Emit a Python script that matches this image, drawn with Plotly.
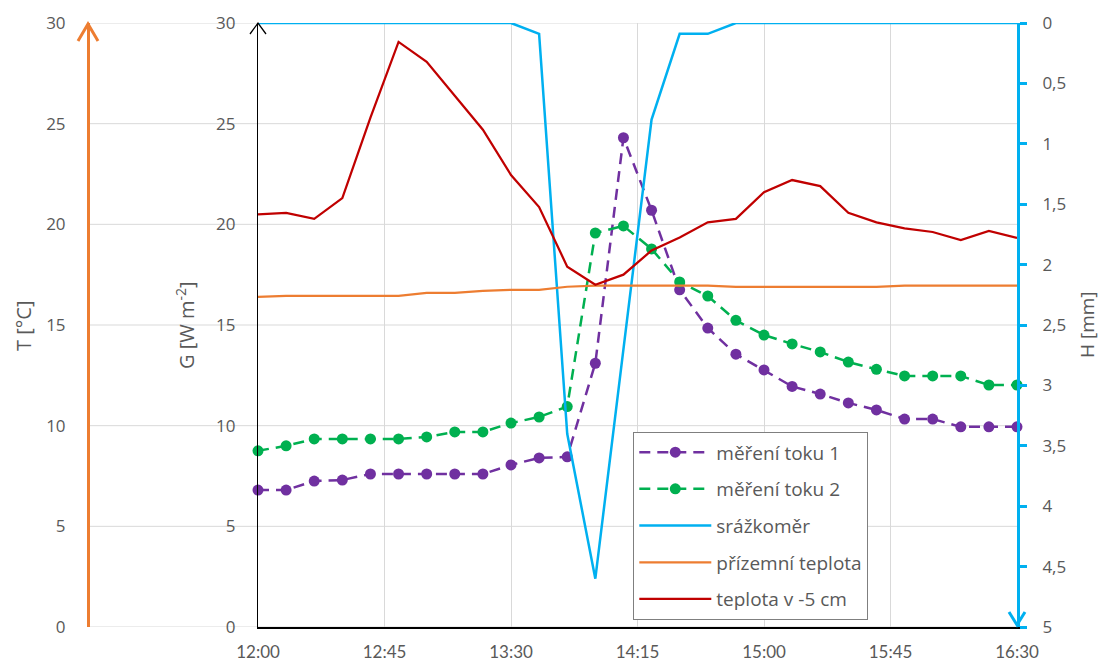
import pandas as pd
import plotly.graph_objects as go

# ---------------- data ----------------
times = ["12:00", "12:10", "12:20", "12:30", "12:40", "12:50", "13:00", "13:10", "13:20", "13:30",
         "13:40", "13:50", "14:00", "14:10", "14:20", "14:30", "14:40", "14:50", "15:00", "15:10",
         "15:20", "15:30", "15:40", "15:50", "16:00", "16:10", "16:20", "16:30"]

flux1 = [6.8, 6.8, 7.25, 7.3, 7.6, 7.6, 7.6, 7.6, 7.6, 8.05, 8.4, 8.45, 13.1, 24.3,
         20.7, 16.75, 14.85, 13.55, 12.77, 11.95, 11.57, 11.13, 10.78, 10.33, 10.33, 9.94, 9.94, 9.94]
flux2 = [8.75, 9.0, 9.34, 9.34, 9.34, 9.34, 9.44, 9.69, 9.69, 10.13, 10.43, 10.95, 19.57, 19.92,
         18.78, 17.14, 16.44, 15.23, 14.5, 14.06, 13.66, 13.16, 12.8, 12.47, 12.47, 12.47, 12.02, 12.02]
rain = [0, 0, 0, 0, 0, 0, 0, 0, 0, 0, 0.09, 3.4, 4.6, 2.7, 0.8, 0.09, 0.09, 0, 0, 0,
        0, 0, 0, 0, 0, 0, 0, 0]
t_surface = [16.4, 16.45, 16.45, 16.45, 16.45, 16.45, 16.6, 16.6, 16.7, 16.75, 16.75, 16.9, 16.95, 16.95,
             16.95, 16.95, 16.95, 16.9, 16.9, 16.9, 16.9, 16.9, 16.9, 16.95, 16.95, 16.95, 16.95, 16.95]
t_5cm = [20.5, 20.57, 20.27, 21.3, 25.3, 29.06, 28.07, 26.4, 24.7, 22.45, 20.86, 17.9, 17.0, 17.5,
         18.7, 19.35, 20.1, 20.27, 21.6, 22.2, 21.9, 20.57, 20.1, 19.8, 19.62, 19.22, 19.67, 19.32]

names = ["měření toku 1", "měření toku 2", "srážkoměr", "přízemní teplota", "teplota v -5 cm"]
y_ticks = [0, 5, 10, 15, 20, 25, 30]
h_ticks = [0, 0.5, 1, 1.5, 2, 2.5, 3, 3.5, 4, 4.5, 5]
x_tick_labels = ["12:00", "12:45", "13:30", "14:15", "15:00", "15:45", "16:30"]

# ---------------- style ----------------
W, H = 1104, 664
L_PX, R_PX, T_PX, B_PX = 258, 1017, 23, 627
T_AXIS_PX = 88
PH = B_PX - T_PX


def px(xp):
    return xp / W


def py(yp):
    return (B_PX - yp) / PH


GRAY = "#595959"
GRID = "#D9D9D9"
PURPLE = "#7030A0"
GREEN = "#00B050"
BLUE = "#00B0F0"
ORANGE = "#ED7D31"
RED = "#C00000"
TICK_FONT = dict(family="Open Sans", size=17, color=GRAY)

x = pd.to_datetime(["2020-01-01 " + t for t in times])
xt = pd.to_datetime(["2020-01-01 " + t for t in x_tick_labels])

fig = go.Figure()
fig.add_trace(go.Scatter(x=x, y=flux1, name=names[0], mode="lines+markers", legendgroup="a",
                         line=dict(color=PURPLE, width=2.5, dash="11px,7px"),
                         marker=dict(size=11, color=PURPLE), yaxis="y", cliponaxis=False))
fig.add_trace(go.Scatter(x=x, y=flux2, name=names[1], mode="lines+markers", legendgroup="b",
                         line=dict(color=GREEN, width=2.5, dash="11px,7px"),
                         marker=dict(size=11, color=GREEN), yaxis="y", cliponaxis=False))
fig.add_trace(go.Scatter(x=x, y=rain, name=names[2], mode="lines", legendgroup="c",
                         line=dict(color=BLUE, width=2.5), yaxis="y2", cliponaxis=False))
fig.add_trace(go.Scatter(x=x, y=t_surface, name=names[3], mode="lines", legendgroup="d",
                         line=dict(color=ORANGE, width=2.25), yaxis="y3", cliponaxis=False))
fig.add_trace(go.Scatter(x=x, y=t_5cm, name=names[4], mode="lines", legendgroup="e",
                         line=dict(color=RED, width=2.25), yaxis="y3", cliponaxis=False))

# horizontal gridlines spanning from the T axis to the plot's right edge
shapes = []
for v in y_ticks:
    shapes.append(dict(type="line", xref="paper", yref="y", x0=px(T_AXIS_PX), x1=px(R_PX), y0=v, y1=v,
                       line=dict(color=GRID, width=1), layer="below"))


def chevron(xc, yc, dx, dy, color, w):
    return dict(type="path", xref="paper", yref="paper",
                path=f"M {px(xc - dx)} {py(yc + dy)} L {px(xc)} {py(yc)} L {px(xc + dx)} {py(yc + dy)}",
                line=dict(color=color, width=w), layer="above")


shapes.append(chevron(T_AXIS_PX, 24, 10, 17, ORANGE, 3))
shapes.append(chevron(L_PX, 23, 8, 11, "#000000", 1.3))
shapes.append(chevron(R_PX, 625, 8, -13, BLUE, 3))

TITLE_FONT = dict(size=20, color=GRAY, family="Open Sans")
annotations = [
    dict(text="T [°C]", x=px(23), y=py(326), xref="paper", yref="paper", showarrow=False,
         textangle=-90, font=TITLE_FONT, xanchor="center", yanchor="middle"),
    dict(text="G [W m<sup>-2</sup>]", x=px(185), y=py(325), xref="paper", yref="paper", showarrow=False,
         textangle=-90, font=TITLE_FONT, xanchor="center", yanchor="middle"),
    dict(text="H [mm]", x=px(1087), y=py(325), xref="paper", yref="paper", showarrow=False,
         textangle=-90, font=dict(size=19, color=GRAY, family="Open Sans"),
         xanchor="center", yanchor="middle"),
]

fig.update_layout(
    width=W, height=H,
    margin=dict(l=0, r=0, t=T_PX, b=H - B_PX, pad=0, autoexpand=False),
    paper_bgcolor="white", plot_bgcolor="white",
    separators=", ",
    showlegend=True,
    shapes=shapes,
    annotations=annotations,
    xaxis=dict(type="date", domain=[L_PX / W, R_PX / W], range=[x[0], x[-1]],
               tickvals=xt, ticktext=x_tick_labels, automargin=False,
               showgrid=True, gridcolor=GRID, gridwidth=1, zeroline=False,
               showline=True, linecolor="#000000", linewidth=1.5,
               ticks="", ticklabelstandoff=9,
               tickfont=dict(family="Lato", size=17, color=GRAY)),
    yaxis=dict(range=[0, 30], tickvals=y_ticks, showgrid=False, zeroline=False, anchor="x",
               showline=True, linecolor="#000000", linewidth=1.3, automargin=False,
               ticks="", ticklabelstandoff=18, tickfont=TICK_FONT),
    yaxis2=dict(range=[5, 0], tickvals=h_ticks, overlaying="y", side="right", anchor="x",
                showgrid=False, zeroline=False, showline=True, linecolor=BLUE, linewidth=3,
                ticks="outside", ticklen=7, tickwidth=2.5, tickcolor=BLUE, ticklabelstandoff=12,
                tickfont=TICK_FONT, automargin=False),
    yaxis3=dict(range=[0, 30], tickvals=y_ticks, overlaying="y", side="left", anchor="free",
                position=T_AXIS_PX / W, automargin=False,
                showgrid=False, zeroline=False, showline=True, linecolor=ORANGE, linewidth=3,
                ticks="", ticklabelstandoff=18, tickfont=TICK_FONT),
    legend=dict(x=px(633), y=py(432), xanchor="left", yanchor="top",
                bgcolor="white", bordercolor="#7F7F7F", borderwidth=1.3,
                font=dict(family="Open Sans", size=19, color=GRAY),
                itemwidth=72, tracegroupgap=9),
)

fig.write_html("out.html")
